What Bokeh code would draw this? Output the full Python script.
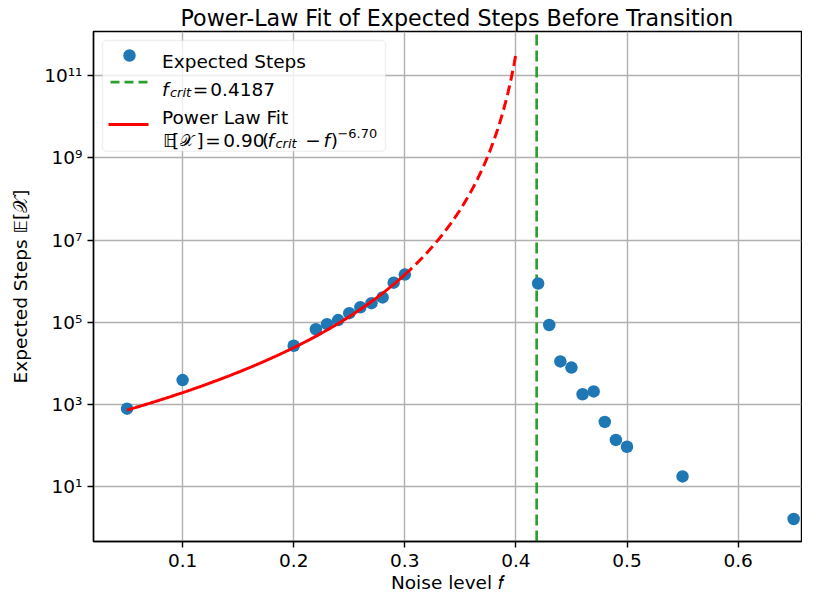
import numpy as np
from bokeh.plotting import figure
from bokeh.models import Range1d, FixedTicker, CustomJSTickFormatter, BoxAnnotation
from bokeh.core.properties import value
from bokeh.embed import file_html
from bokeh.resources import INLINE

# ---------------- data ----------------
NOISE = [0.05, 0.10, 0.20, 0.22, 0.23, 0.24, 0.25, 0.26, 0.27, 0.28, 0.29, 0.30,
         0.42, 0.43, 0.44, 0.45, 0.46, 0.47, 0.48, 0.49, 0.50, 0.55, 0.65]
STEPS = [780, 3870, 26500, 67000, 89000, 112000, 165000, 230000, 290000, 400000, 915000, 1.44e6,
         870000, 85000, 11000, 7800, 1750, 2050, 370, 135, 92, 17.4, 1.6]

# fitted power law parameters (from the legend)
FIT_A = 0.90
F_CRIT = 0.4187
FIT_EXP = 6.70
FIT_F_START = 0.05
FIT_F_SOLID_END = 0.30
FIT_F_END = 0.40

X_TICKS = [0.1, 0.2, 0.3, 0.4, 0.5, 0.6]
Y_TICKS = [1e1, 1e3, 1e5, 1e7, 1e9, 1e11]

TITLE = "Power-Law Fit of Expected Steps Before Transition"
X_LABEL = "Noise level \U0001D453"
Y_LABEL = "Expected Steps \U0001D53C[\U0001D4B3]"

# ---------------- layout ----------------
W, H = 802, 597
BL, BR, BT, BB = 93, 1, 31, 56
FRAME_W = W - BL - BR
FRAME_H = H - BT - BB

X_START = 0.0198
X_END = X_START + FRAME_W / 1111.0
LY_START, LY_END = -0.345, 12.08
Y_START, Y_END = 10 ** LY_START, 10 ** LY_END

FONT = "DejaVu Sans"
FS = "18.5px"
FS_SMALL = "12.95px"


def lx(off):
    return X_START + off / FRAME_W * (X_END - X_START)


def ly(off):
    return 10 ** (LY_END - off / FRAME_H * (LY_END - LY_START))


p = figure(width=W, height=H, title=TITLE,
           x_range=Range1d(X_START, X_END), y_range=Range1d(Y_START, Y_END),
           y_axis_type="log", output_backend="svg", toolbar_location=None,
           min_border_left=BL, min_border_right=BR, min_border_top=BT, min_border_bottom=BB)

p.background_fill_color = "white"
p.border_fill_color = "white"
p.outline_line_color = "black"
p.outline_line_width = 1.4

p.title.text_font = FONT
p.title.text_font_size = "22.2px"
p.title.text_font_style = "normal"
p.title.text_color = "black"
p.title.align = "left"
p.title.offset = 87
p.title.standoff = 2

for ax in (p.xaxis, p.yaxis):
    ax.axis_line_color = "black"
    ax.axis_line_width = 1.4
    ax.major_tick_line_color = "black"
    ax.major_tick_line_width = 1.4
    ax.major_tick_out = 6
    ax.major_tick_in = 0
    ax.minor_tick_line_color = None
    ax.major_label_text_font = FONT
    ax.major_label_text_font_size = FS
    ax.major_label_text_color = "black"
    ax.axis_label_text_font = FONT
    ax.axis_label_text_font_size = FS
    ax.axis_label_text_font_style = "normal"
    ax.axis_label_text_color = "black"

p.xaxis.ticker = FixedTicker(ticks=X_TICKS, minor_ticks=[])
p.xaxis.formatter = CustomJSTickFormatter(code="return tick.toFixed(1);")
p.xaxis.axis_label = X_LABEL
p.xaxis.major_label_standoff = 6
p.xaxis.axis_label_standoff = 2

p.yaxis.ticker = FixedTicker(ticks=Y_TICKS, minor_ticks=[])
p.yaxis.formatter = CustomJSTickFormatter(code="""
const sup = {"0":"\u2070","1":"\u00b9","2":"\u00b2","3":"\u00b3","4":"\u2074","5":"\u2075",
             "6":"\u2076","7":"\u2077","8":"\u2078","9":"\u2079","-":"\u207b"};
const e = Math.round(Math.log10(tick));
return "10" + String(e).split("").map(c => sup[c]).join("");
""")
p.yaxis.axis_label = Y_LABEL
p.yaxis.major_label_standoff = 5
p.yaxis.axis_label_standoff = 10

for g in (p.xgrid, p.ygrid):
    g.grid_line_color = "#b0b0b0"
    g.grid_line_width = 1.4

# ---------------- glyphs ----------------
GREEN = "#2ca02c"
BLUE = "#1f77b4"
RED = "#ff0000"

p.line([F_CRIT, F_CRIT], [Y_START, Y_END], line_color=GREEN, line_width=2.7, line_dash="11 5")
p.scatter(NOISE, STEPS, size=12.5, fill_color=BLUE, line_color=None)

f_solid = np.linspace(FIT_F_START, FIT_F_SOLID_END, 300)
f_dash = np.linspace(FIT_F_SOLID_END, FIT_F_END, 300)
p.line(f_solid, FIT_A * (F_CRIT - f_solid) ** (-FIT_EXP), line_color=RED, line_width=3)
p.line(f_dash, FIT_A * (F_CRIT - f_dash) ** (-FIT_EXP), line_color=RED, line_width=3,
       line_dash="10 5")

# ---------------- legend (drawn by hand) ----------------
box = BoxAnnotation(left=lx(9), right=lx(292), top=ly(9), bottom=ly(119.7),
                    fill_color="white", fill_alpha=0.8, line_color="#cccccc",
                    line_width=1.4, border_radius=4)
p.add_layout(box)

p.scatter([lx(36)], [ly(24)], size=12.5, fill_color=BLUE, line_color=None, level="overlay")
p.line([lx(17), lx(55)], [ly(50.7), ly(50.7)], line_color=GREEN, line_width=2.7,
       line_dash="9 5", level="overlay")
p.line([lx(15), lx(55)], [ly(93), ly(93)], line_color=RED, line_width=3, level="overlay")

common = dict(text_font=value(FONT), text_baseline="alphabetic", text_align="left",
              text_color="black", level="overlay")

ROW1, ROW2, ROW3, ROW4 = 29.7, 58.3, 85.7, 109.0

reg_txt = ["Expected Steps", "=", "0.4187", "Power Law Fit",
           "\U0001D53C", "[", "]", "=", "0.90", "(", "\u2212", ")"]
reg_x = [lx(68.5), lx(99.3), lx(116.8), lx(68.5),
         lx(69.5), lx(78.5), lx(103), lx(111.7), lx(129.8), lx(168.5), lx(211.7), lx(237.2)]
reg_y = [ly(ROW1), ly(ROW2), ly(ROW2), ly(ROW3)] + [ly(ROW4)] * 8
p.text(reg_x, reg_y, text=reg_txt, text_font_size=FS, **common)

p.text([lx(86.5)], [ly(ROW4)], text=["\U0001D4B3"], text_font_size="16px", **common)

it_txt = ["f", "f", "f"]
it_x = [lx(68.5), lx(174), lx(230)]
it_y = [ly(ROW2), ly(ROW4), ly(ROW4)]
p.text(it_x, it_y, text=it_txt, text_font_size=FS, text_font_style="italic", **common)

sub_txt = ["crit", "crit"]
sub_x = [lx(76.5), lx(182)]
sub_y = [ly(ROW2 + 2.7), ly(ROW4 + 2.7)]
p.text(sub_x, sub_y, text=sub_txt, text_font_size=FS_SMALL, text_font_style="italic", **common)

p.text([lx(244)], [ly(ROW4 - 6.7)], text=["\u22126.70"], text_font_size=FS_SMALL, **common)

open("out.html", "w").write(file_html(p, INLINE))
